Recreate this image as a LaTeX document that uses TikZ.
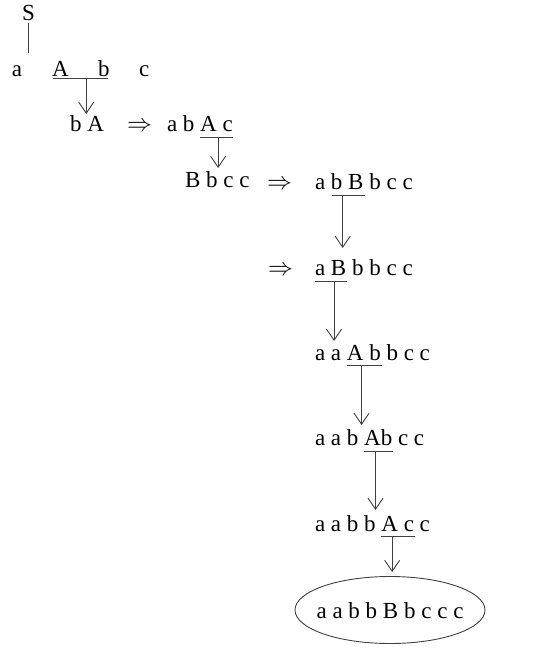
\documentclass[tikz,border=0pt]{standalone}
\usepackage{fontspec}
\setmainfont{Liberation Serif}
\usetikzlibrary{arrows.meta,calc,shapes.geometric}
\definecolor{lc}{HTML}{404040}
\begin{document}
\begin{tikzpicture}[x=1pt,y=-1pt,
  txt/.style={inner sep=0pt, outer sep=0pt, font=\fontsize{23}{27}\selectfont, text height=16pt, text depth=0pt, anchor=base west},
  nxt/.style={txt, xshift=5.75pt},
  uline/.style={draw=lc, line width=0.9pt},
  arr/.style={draw=lc, line width=0.9pt, -{Straight Barb[length=11pt,width=15pt]}},
  endell/.style={draw=lc, line width=0.9pt, ellipse, minimum width=190pt, minimum height=67pt, inner xsep=-7pt, inner ysep=0pt, font=\fontsize{23}{27}\selectfont, text height=16pt, text depth=0pt}
]
\useasboundingbox (0,0) rectangle (543,667);

% row 0 / 1
\node[txt] (S) at (22,20) {S};
\node[txt] (a1) at (12,76) {a};
\node[txt] (A1) at (52,76) {A};
\node[txt] (b1) at (98,76) {b};
\node[txt] (c1) at (139,76) {c};
\draw[draw=lc, line width=0.9pt, shorten <=3pt, shorten >=7pt] (S.south) -- (S.south |- A1.north);
\coordinate (u1l) at ($(A1.base west)+(1,2)$);
\coordinate (u1r) at ($(b1.base east)+(-2,2)$);
\draw[uline] (u1l) -- (u1r);
\coordinate (u1m) at ($(u1l)!0.61!(u1r)$);

% row 2
\node[txt] (r2) at (70,131) {b A};
\node[txt] (imp1) at (127,131) {$\Rightarrow$};
\node[txt] (r2a) at (167,131) {a b};
\node[nxt] (r2b) at (r2a.base east) {A c};
\draw[arr, shorten >=1pt] (u1m) -- (u1m |- r2.north);
\coordinate (u2l) at ($(r2b.base west)+(0,6)$);
\coordinate (u2r) at ($(r2b.base east)+(0,6)$);
\draw[uline] (u2l) -- (u2r);
\coordinate (u2m) at ($(u2l)!0.55!(u2r)$);

% row 3
\node[txt] (r3) at (185,187) {B b c c};
\draw[arr, shorten >=3pt] (u2m) -- (u2m |- r3.north);
\node[txt] (imp2) at (267,189) {$\Rightarrow$};
\node[txt] (r3a) at (315,189) {a};
\node[nxt] (r3b) at (r3a.base east) {b B};
\node[nxt] (r3c) at (r3b.base east) {b c c};
\coordinate (u3l) at ($(r3b.base west)+(1,6)$);
\coordinate (u3r) at ($(r3b.base east)+(1,6)$);
\draw[uline] (u3l) -- (u3r);
\coordinate (u3m) at ($(u3l)!0.33!(u3r)$);

% row 4
\node[txt] (imp3) at (268,275) {$\Rightarrow$};
\node[txt] (r4a) at (315,275) {a B};
\node[nxt] (r4b) at (r4a.base east) {b b c c};
\draw[arr, shorten >=11pt] (u3m) -- (u3m |- r4a.north);
\coordinate (u4l) at ($(r4a.base west)+(0,6)$);
\coordinate (u4r) at ($(r4a.base east)+(1,6)$);
\draw[uline] (u4l) -- (u4r);
\coordinate (u4m) at ($(u4l)!0.59!(u4r)$);

% row 5
\node[txt] (r5a) at (315,360) {a a};
\node[nxt] (r5b) at (r5a.base east) {A b};
\node[nxt] (r5c) at (r5b.base east) {b c c};
\draw[arr, shorten >=3pt] (u4m) -- (u4m |- r5b.north);
\coordinate (u5l) at ($(r5b.base west)+(0,5)$);
\coordinate (u5r) at ($(r5b.base east)+(1,5)$);
\draw[uline] (u5l) -- (u5r);
\coordinate (u5m) at ($(u5l)!0.42!(u5r)$);

% row 6
\node[txt] (r6a) at (315,445) {a a b};
\node[nxt] (r6b) at (r6a.base east) {Ab};
\node[nxt] (r6c) at (r6b.base east) {c c};
\draw[arr, shorten >=4pt] (u5m) -- (u5m |- r6b.north);
\coordinate (u6l) at ($(r6b.base west)+(0,6)$);
\coordinate (u6r) at ($(r6b.base east)+(1,6)$);
\draw[uline] (u6l) -- (u6r);
\coordinate (u6m) at ($(u6l)!0.39!(u6r)$);

% row 7
\node[txt] (r7a) at (315,531) {a a b b};
\node[nxt] (r7b) at (r7a.base east) {A c};
\node[nxt] (r7c) at (r7b.base east) {c};
\draw[arr, shorten >=5pt] (u6m) -- (u6m |- r7b.north);
\coordinate (u7l) at ($(r7b.base west)+(0,5)$);
\coordinate (u7r) at ($(r7b.base east)+(1,5)$);
\draw[uline] (u7l) -- (u7r);
\coordinate (u7m) at ($(u7l)!0.32!(u7r)$);

% final
\node[endell] (fin) at (390,610) {a a b b B b c c c};
\draw[arr, shorten >=4pt] (u7m) -- (u7m |- fin.north);
\end{tikzpicture}
\end{document}
